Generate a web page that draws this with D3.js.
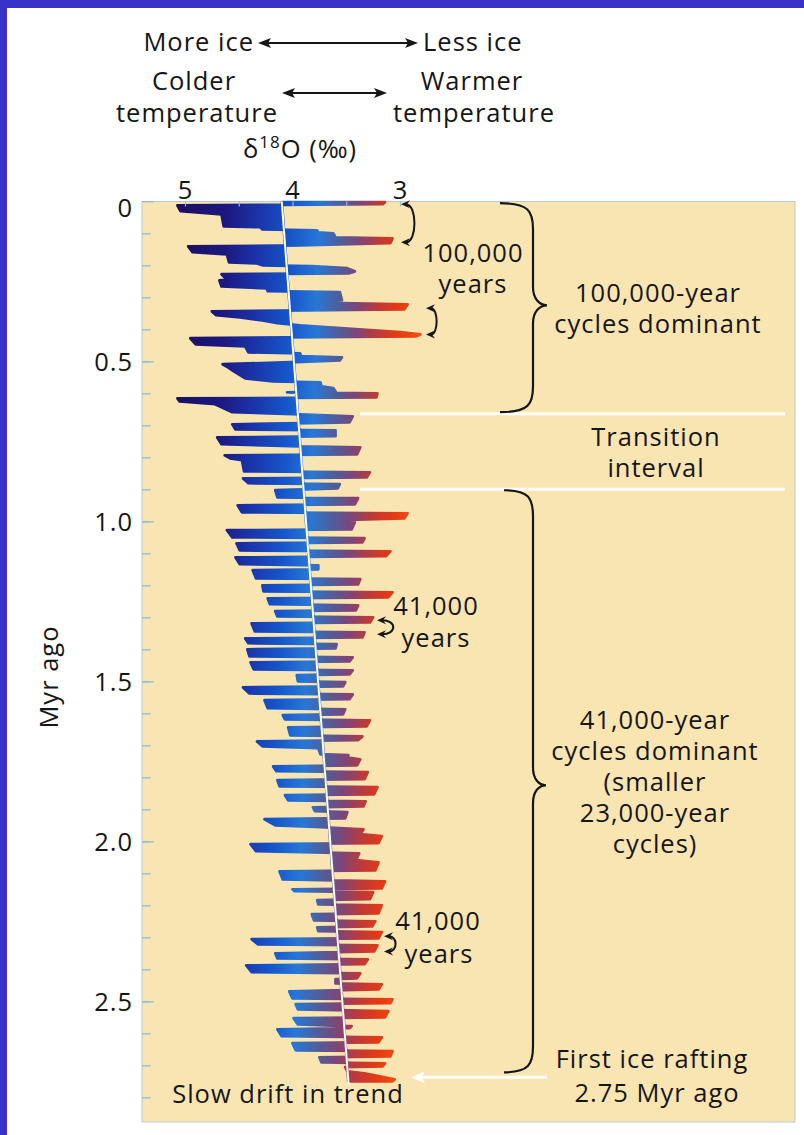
<!DOCTYPE html>
<html>
<head>
<meta charset="utf-8">
<script src="https://cdn.jsdelivr.net/npm/d3@7"></script>
<style>
  html, body { margin: 0; padding: 0; background: #ffffff; }
  svg { display: block; }
  text { font-family: "Open Sans", Lato, sans-serif; fill: #161616; font-weight: 500; letter-spacing: 1px; }
</style>
</head>
<body>
<svg id="chart" width="804" height="1135"></svg>
<script>
// Benthic δ18O record, last 2.75 Myr (age in Myr, δ18O in ‰)
const ages = [
  0.003,0.009,0.013,0.031,0.041,0.078,0.081,0.088,0.091,0.097,
  0.100,0.113,0.116,0.131,0.138,0.141,0.159,0.166,0.191,0.194,
  0.200,0.203,0.209,0.219,0.225,0.228,0.238,0.241,0.247,0.266,
  0.272,0.281,0.284,0.309,0.316,0.322,0.338,0.344,0.356,0.363,
  0.372,0.381,0.388,0.409,0.416,0.422,0.428,0.447,0.453,0.472,
  0.475,0.484,0.488,0.497,0.503,0.509,0.519,0.528,0.553,0.563,
  0.566,0.578,0.584,0.594,0.597,0.600,0.613,0.616,0.625,0.634,
  0.659,0.666,0.672,0.691,0.697,0.713,0.716,0.734,0.738,0.759,
  0.766,0.769,0.791,0.794,0.803,0.809,0.844,0.847,0.863,0.866,
  0.881,0.884,0.897,0.903,0.925,0.928,0.947,0.950,0.972,0.975,
  0.991,0.997,1.003,1.025,1.028,1.050,1.053,1.066,1.069,1.091,
  1.094,1.109,1.113,1.134,1.138,1.150,1.153,1.178,1.181,1.197,
  1.200,1.219,1.222,1.238,1.241,1.259,1.263,1.278,1.281,1.297,
  1.300,1.316,1.319,1.344,1.347,1.363,1.366,1.381,1.384,1.397,
  1.400,1.422,1.425,1.438,1.441,1.463,1.466,1.478,1.481,1.500,
  1.503,1.516,1.519,1.538,1.541,1.556,1.559,1.584,1.588,1.603,
  1.606,1.619,1.622,1.641,1.644,1.669,1.672,1.684,1.688,1.703,
  1.709,1.728,1.731,1.738,1.744,1.763,1.766,1.781,1.784,1.806,
  1.809,1.828,1.831,1.853,1.856,1.872,1.875,1.891,1.894,1.906,
  1.909,1.928,1.931,1.950,1.956,1.963,1.978,1.984,2.006,2.009,
  2.031,2.038,2.059,2.066,2.091,2.094,2.119,2.125,2.147,2.150,
  2.156,2.159,2.181,2.184,2.197,2.200,2.225,2.228,2.247,2.250,
  2.266,2.269,2.281,2.284,2.303,2.306,2.322,2.325,2.344,2.350,
  2.366,2.369,2.384,2.388,2.409,2.413,2.428,2.431,2.444,2.447,
  2.463,2.469,2.491,2.494,2.506,2.509,2.525,2.531,2.550,2.553,
  2.572,2.578,2.584,2.588,2.609,2.613,2.628,2.631,2.653,2.656,
  2.672,2.675,2.691,2.694,2.703,2.706,2.719,2.725,2.744,2.750
];
const d18O = [
  3.14,3.16,5.07,5.04,4.66,4.64,4.30,4.28,3.77,3.76,
  3.62,3.60,3.07,3.09,3.93,4.97,4.93,4.61,4.59,4.33,
  4.28,3.82,3.49,3.42,3.47,4.66,4.63,4.49,4.68,4.66,
  4.24,4.23,3.56,3.54,3.93,2.93,2.96,4.75,4.71,4.49,
  4.28,4.14,3.93,3.00,2.81,2.85,4.95,4.90,4.44,4.41,
  3.93,3.92,3.54,3.56,4.02,4.65,4.60,4.56,4.44,4.18,
  3.74,3.73,3.62,3.60,4.05,3.21,3.22,5.07,5.05,4.72,
  4.56,3.93,3.44,3.47,4.56,4.53,3.60,3.60,4.70,4.66,
  3.93,3.37,3.40,4.63,4.58,4.47,4.45,3.28,3.31,4.46,
  4.41,3.56,3.58,4.16,4.14,3.39,3.42,4.51,4.47,2.93,
  2.96,3.65,3.42,3.45,4.61,4.56,3.33,3.35,4.52,4.49,
  3.09,3.13,4.53,4.49,3.76,3.76,4.37,4.34,3.37,3.39,
  4.28,4.27,3.07,3.11,4.23,4.21,3.39,3.41,4.16,4.14,
  3.25,3.28,4.38,4.35,3.33,3.35,4.44,4.41,3.59,3.60,
  4.42,4.40,3.44,3.47,4.39,4.36,3.44,3.47,3.96,3.95,
  3.51,3.53,4.46,4.40,3.44,3.47,4.26,4.23,3.51,3.53,
  4.09,4.07,3.28,3.31,4.04,4.02,3.35,3.39,4.33,4.28,
  3.76,3.74,3.48,3.50,3.37,3.40,4.18,4.15,3.30,3.33,
  4.14,4.12,3.21,3.24,4.07,4.04,3.32,3.34,3.81,3.79,
  3.49,3.51,4.26,4.16,3.74,3.34,3.37,3.17,3.20,4.39,
  4.34,3.38,3.41,3.20,3.23,4.12,4.09,3.14,3.17,4.00,
  3.98,3.25,3.28,3.77,3.76,3.17,3.20,3.82,3.80,3.23,
  3.26,3.77,3.76,3.17,3.20,4.38,4.32,3.21,3.24,4.16,
  4.14,3.30,3.33,4.43,4.38,3.37,3.40,3.60,3.60,3.17,
  3.20,4.03,4.00,3.07,3.09,3.97,3.95,3.11,3.14,3.99,
  3.95,3.45,3.47,4.14,4.10,3.17,3.20,4.00,3.97,3.07,
  3.09,3.75,3.73,3.14,3.16,3.51,3.49,3.33,3.05,3.07
];

// Long-term linear trend (white line)
const trendAges = [0, 2.76];
const trendD18O = [4.10, 3.478];

// Axis ticks
const xTickValues = [5, 4, 3];
const xMinorTicks = [5, 4.5, 4, 3.5, 3];
const yMajorTicks = [0, 0.5, 1.0, 1.5, 2.0, 2.5];
const yTickLabels = ["0", "0.5", "1.0", "1.5", "2.0", "2.5"];
const yMinorTicks = d3.range(1, 29).map(i => i / 10);

// Interval boundaries and annotation ages (Myr)
const transitionBounds = [0.664, 0.900];
const iceRaftingAge = 2.7375;

const svg = d3.select("#chart");
const W = 804, H = 1135;
const FS = 25.5;

// frame
svg.append("rect").attr("width", W).attr("height", H).attr("fill", "#3832c8");
svg.append("rect").attr("x", 7).attr("y", 8).attr("width", W - 7).attr("height", H - 8).attr("fill", "#ffffff");

// scales
const x = d3.scaleLinear().domain([5, 3]).range([185, 400]);
const y = d3.scaleLinear().domain([0, 2.5]).range([201.3, 1001.3]);
const trend = d3.scaleLinear().domain(trendAges).range(trendD18O);

const plot = { left: 142, top: 201.5, right: 795, bottom: 1122 };

// panel
svg.append("rect")
  .attr("x", plot.left).attr("y", plot.top)
  .attr("width", plot.right - plot.left).attr("height", plot.bottom - plot.top)
  .attr("fill", "#f9e5b2")
  .attr("stroke", "#b3cbd8").attr("stroke-width", 1);

// colour ramp: cold (high δ18O) navy/blue → warm (low δ18O) red
const defs = svg.append("defs");
const grad = defs.append("linearGradient")
  .attr("id", "isoRamp")
  .attr("gradientUnits", "userSpaceOnUse")
  .attr("x1", 165).attr("y1", 641)
  .attr("x2", 410).attr("y2", 648);
[
  [0.000, "#1a0e5e"],
  [0.200, "#1c1880"],
  [0.330, "#1a34a8"],
  [0.470, "#1656cb"],
  [0.580, "#2877d6"],
  [0.665, "#4e5f9c"],
  [0.745, "#7c467a"],
  [0.825, "#bc3a3a"],
  [0.915, "#e63a14"],
  [1.000, "#f04e10"]
].forEach(([o, c]) => grad.append("stop").attr("offset", o).attr("stop-color", c));

const series = ages.map((a, i) => ({ age: a, v: d18O[i] }));

// filled excursions about the trend
const area = d3.area()
  .y(d => y(d.age))
  .x0(d => x(trend(d.age)))
  .x1(d => x(d.v));

svg.append("path")
  .datum(series)
  .attr("d", area)
  .attr("fill", "url(#isoRamp)")
  .attr("stroke", "url(#isoRamp)")
  .attr("stroke-width", 2.8)
  .attr("stroke-linejoin", "round");

// trend line
svg.append("line")
  .attr("x1", x(trendD18O[0])).attr("y1", y(trendAges[0]))
  .attr("x2", x(trendD18O[1])).attr("y2", y(trendAges[1]))
  .attr("stroke", "#ffffff").attr("stroke-width", 2);

// y axis: minor and major ticks pointing into the panel
const tickColor = "#93bfd6";
const yMinor = svg.append("g").attr("transform", `translate(${plot.left},0)`)
  .call(d3.axisLeft(y).tickValues(yMinorTicks).tickSizeInner(-9).tickSizeOuter(0).tickFormat(""));
yMinor.select(".domain").remove();
yMinor.selectAll("line").attr("stroke", tickColor).attr("stroke-width", 1.3);

const yMajor = svg.append("g").attr("transform", `translate(${plot.left},0)`)
  .call(d3.axisLeft(y).tickValues(yMajorTicks).tickSizeInner(-12).tickSizeOuter(0).tickPadding(9)
    .tickFormat((d, i) => yTickLabels[i]));
yMajor.select(".domain").remove();
yMajor.selectAll("line").attr("stroke", tickColor).attr("stroke-width", 1.3);
yMajor.selectAll("text")
  .attr("font-size", FS)
  .attr("font-family", "Open Sans")
  .attr("fill", "#161616")
  .attr("dy", (d) => d === 0 ? "0.58em" : "0.36em");

// x axis along the top
const xMinor = svg.append("g").attr("transform", `translate(0,${plot.top})`)
  .call(d3.axisTop(x).tickValues(xMinorTicks).tickSizeInner(-5).tickSizeOuter(0).tickFormat(""));
xMinor.select(".domain").remove();
xMinor.selectAll("line").attr("stroke", tickColor).attr("stroke-width", 1.2);

const xLab = svg.append("g").attr("transform", `translate(0,${plot.top})`)
  .call(d3.axisTop(x).tickValues(xTickValues).tickSize(0).tickPadding(3).tickFormat(d3.format("d")));
xLab.select(".domain").remove();
xLab.selectAll("text").attr("font-size", FS).attr("font-family", "Open Sans").attr("fill", "#161616");

// helpers
const ink = "#161616";
function label(txt, cx, by, anchor = "middle", size = FS) {
  return svg.append("text").attr("x", cx).attr("y", by)
    .attr("text-anchor", anchor).attr("font-size", size).text(txt);
}
function head(px, py, dir, color = ink, len = 13, half = 5) {
  // arrowhead with tip at (px,py), pointing left (dir=-1) or right (dir=1)
  const bx = px - dir * len;
  svg.append("path")
    .attr("d", `M${px},${py} L${bx},${py - half} L${bx + dir * 3},${py} L${bx},${py + half} Z`)
    .attr("fill", color);
}
function doubleArrow(xa, xb, yy) {
  svg.append("line").attr("x1", xa + 6).attr("x2", xb - 6).attr("y1", yy).attr("y2", yy)
    .attr("stroke", ink).attr("stroke-width", 2);
  head(xa, yy, -1);
  head(xb, yy, 1);
}
function brace(x0, xb, xt, y1, ym, y2) {
  const p = d3.path();
  p.moveTo(x0, y1);
  p.bezierCurveTo(xb - 4, y1, xb, y1 + 8, xb, y1 + 26);
  p.lineTo(xb, ym - 18);
  p.bezierCurveTo(xb, ym - 6, xt - 7, ym, xt, ym);
  p.bezierCurveTo(xt - 7, ym, xb, ym + 6, xb, ym + 18);
  p.lineTo(xb, y2 - 26);
  p.bezierCurveTo(xb, y2 - 8, xb - 4, y2, x0, y2);
  svg.append("path").attr("d", p.toString()).attr("fill", "none")
    .attr("stroke", ink).attr("stroke-width", 2.2);
}
function loop(xa, ya, yb, w) {
  const p = d3.path();
  p.moveTo(xa + 5, ya);
  p.bezierCurveTo(xa + w * 1.25, ya, xa + w * 1.25, yb, xa + 5, yb);
  svg.append("path").attr("d", p.toString()).attr("fill", "none")
    .attr("stroke", ink).attr("stroke-width", 2);
  head(xa, ya, -1, ink, 9, 4);
  head(xa, yb, -1, ink, 9, 4);
}

// header
label("More ice", 254, 51, "end");
doubleArrow(258, 418, 43);
label("Less ice", 423, 51, "start");
label("Colder", 194, 90);
label("temperature", 197, 122);
doubleArrow(282, 387, 93);
label("Warmer", 472, 90);
label("temperature", 474, 122);
const dt = svg.append("text").attr("x", 300).attr("y", 158).attr("text-anchor", "middle").attr("font-size", FS);
dt.append("tspan").text("δ");
dt.append("tspan").attr("font-size", 17).attr("dy", -10).text("18");
dt.append("tspan").attr("dy", 10).text("O (‰)");

// y title
svg.append("text").attr("transform", "translate(58,677) rotate(-90)")
  .attr("text-anchor", "middle").attr("font-size", FS).text("Myr ago");

// transition interval boundaries
transitionBounds.forEach(a => {
  svg.append("line").attr("x1", 360).attr("x2", 785).attr("y1", y(a)).attr("y2", y(a))
    .attr("stroke", "#ffffff").attr("stroke-width", 3);
});

// cycle brackets
loop(401, y(0.009), y(0.128), 13);
loop(426, y(0.334), y(0.416), 10);
loop(377, y(1.309), y(1.353), 16);
loop(384, y(2.297), y(2.344), 11);

label("100,000", 473, 262);
label("years", 473, 293);
label("41,000", 436, 615);
label("years", 436, 647);
label("41,000", 438, 930);
label("years", 439, 963);

// interval braces
brace(500, 533, 547, y(0.006), y(0.325), y(0.659));
brace(504, 533, 546, y(0.903), y(1.825), y(2.722));

label("100,000-year", 658, 302);
label("cycles dominant", 658, 333);
label("Transition", 656, 446);
label("interval", 656, 477);
label("41,000-year", 655, 729);
label("cycles dominant", 655, 760);
label("(smaller", 655, 791);
label("23,000-year", 655, 822);
label("cycles)", 655, 853);

// first ice rafting marker
svg.append("line").attr("x1", 547).attr("x2", 420).attr("y1", y(iceRaftingAge)).attr("y2", y(iceRaftingAge))
  .attr("stroke", "#ffffff").attr("stroke-width", 3);
head(411, y(iceRaftingAge), -1, "#ffffff", 14, 6);
label("First ice rafting", 652, 1068);
label("2.75 Myr ago", 657, 1102);

label("Slow drift in trend", 288, 1103);
</script>
</body>
</html>
